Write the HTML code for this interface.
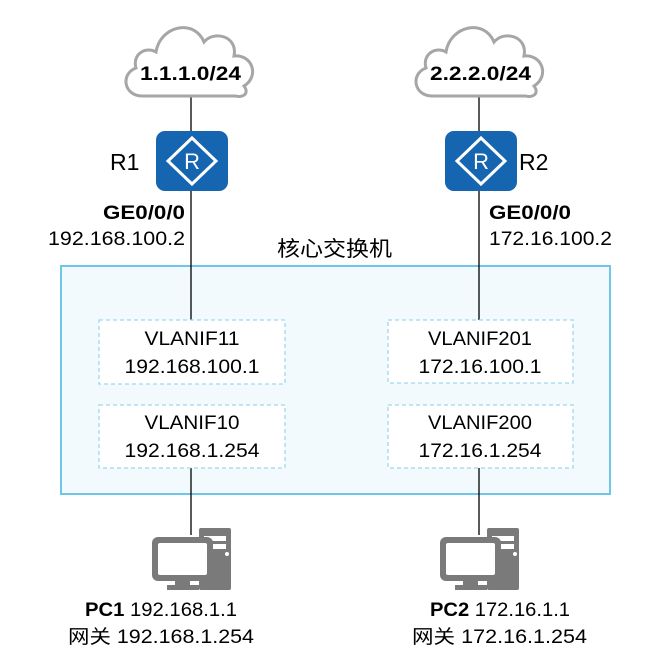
<!DOCTYPE html>
<html><head><meta charset="utf-8"><style>
html,body{margin:0;padding:0;background:#fff;}
svg{display:block;font-family:"Liberation Sans","Noto Sans CJK SC",sans-serif;}
</style></head><body>
<svg width="645" height="664" viewBox="0 0 645 664" xmlns="http://www.w3.org/2000/svg">
<defs>
<g id="cloud">
<path d="M-48,26 C-66,26 -70,4 -54,-2 C-58,-16 -44,-24 -34,-18 C-30,-44 4,-52 14,-28 C24,-40 48,-34 44,-14 C62,-16 70,6 54,16 C60,24 52,28 46,26 Z" fill="#fff" stroke="#a6a6a6" stroke-width="3"/>
</g>
<g id="router">
<rect x="-36" y="-30" width="72" height="60" rx="9" fill="#1565b0"/>
<polygon points="0,-23 24,0 0,23 -24,0" fill="none" stroke="#fff" stroke-width="3"/>
<text x="0" y="8" font-size="22" fill="#fff" text-anchor="middle">R</text>
</g>
<g id="pc" fill="#7a7a7a">
<rect x="47" y="0" width="32" height="62" rx="2"/>
<rect x="52" y="8" width="22" height="5" fill="#fff"/>
<rect x="52" y="16" width="22" height="5" fill="#fff"/>
<circle cx="75" cy="26" r="2" fill="#fff"/>
<rect x="0" y="9" width="61" height="44" rx="6"/>
<rect x="6" y="15" width="49" height="32" rx="2" fill="#fff"/>
<rect x="23" y="53" width="15" height="4"/>
<rect x="15" y="57" width="32" height="5"/>
</g>
</defs>
<rect x="61" y="266" width="549" height="228" fill="#f3fafd" stroke="#6ec6e8" stroke-width="2"/>
<g stroke="#000" stroke-width="1.3">
<line x1="191" y1="97" x2="191" y2="320"/>
<line x1="191" y1="468" x2="191" y2="535"/>
<line x1="479" y1="97" x2="479" y2="320"/>
<line x1="479" y1="468" x2="479" y2="535"/>
</g>
<use href="#cloud" x="190" y="70"/>
<use href="#cloud" x="480" y="70"/>
<text x="140" y="80" font-size="19" font-weight="bold" textLength="101" lengthAdjust="spacingAndGlyphs">1.1.1.0/24</text>
<text x="430" y="80" font-size="19" font-weight="bold" textLength="101" lengthAdjust="spacingAndGlyphs">2.2.2.0/24</text>
<use href="#router" x="192" y="161"/>
<use href="#router" x="481" y="161"/>
<text x="110" y="170" font-size="23">R1</text>
<text x="519" y="170" font-size="23">R2</text>
<text x="103" y="219" font-size="19" font-weight="bold" textLength="82" lengthAdjust="spacingAndGlyphs">GE0/0/0</text>
<text x="48" y="245" font-size="19" textLength="137" lengthAdjust="spacingAndGlyphs">192.168.100.2</text>
<text x="489" y="219" font-size="19" font-weight="bold" textLength="82" lengthAdjust="spacingAndGlyphs">GE0/0/0</text>
<text x="489" y="245" font-size="19" textLength="123" lengthAdjust="spacingAndGlyphs">172.16.100.2</text>
<text x="277" y="256" font-size="21" textLength="115" lengthAdjust="spacingAndGlyphs">核心交换机</text>
<g fill="#fff" stroke="#9ed7ef" stroke-width="1.3" stroke-dasharray="4,3">
<rect x="99" y="320" width="186" height="64"/>
<rect x="99" y="405" width="186" height="63"/>
<rect x="388" y="320" width="185" height="63"/>
<rect x="388" y="405" width="185" height="63"/>
</g>
<g font-size="19" text-anchor="middle" lengthAdjust="spacingAndGlyphs">
<text x="192" y="345" textLength="95" lengthAdjust="spacingAndGlyphs">VLANIF11</text>
<text x="192" y="373" textLength="135" lengthAdjust="spacingAndGlyphs">192.168.100.1</text>
<text x="192" y="429" textLength="95" lengthAdjust="spacingAndGlyphs">VLANIF10</text>
<text x="192" y="457" textLength="135" lengthAdjust="spacingAndGlyphs">192.168.1.254</text>
<text x="480" y="345" textLength="104" lengthAdjust="spacingAndGlyphs">VLANIF201</text>
<text x="480" y="373" textLength="123" lengthAdjust="spacingAndGlyphs">172.16.100.1</text>
<text x="480" y="429" textLength="104" lengthAdjust="spacingAndGlyphs">VLANIF200</text>
<text x="480" y="457" textLength="123" lengthAdjust="spacingAndGlyphs">172.16.1.254</text>
</g>
<use href="#pc" x="152" y="528"/>
<use href="#pc" x="440" y="528"/>
<text x="85" y="616" font-size="19" textLength="152" lengthAdjust="spacingAndGlyphs"><tspan font-weight="bold">PC1</tspan> 192.168.1.1</text>
<text x="68" y="643" font-size="19" textLength="186" lengthAdjust="spacingAndGlyphs">网关 192.168.1.254</text>
<text x="430" y="616" font-size="19" textLength="140" lengthAdjust="spacingAndGlyphs"><tspan font-weight="bold">PC2</tspan> 172.16.1.1</text>
<text x="412" y="643" font-size="19" textLength="175" lengthAdjust="spacingAndGlyphs">网关 172.16.1.254</text>
</svg>
</body></html>
